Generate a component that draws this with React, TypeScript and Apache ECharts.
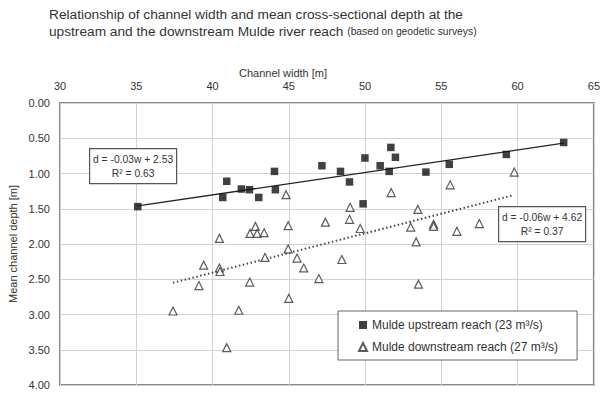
import React, { useEffect, useRef } from "react";
import * as echarts from "echarts";

const xTicks = [30, 35, 40, 45, 50, 55, 60, 65];
const yTicks = [0, 0.5, 1, 1.5, 2, 2.5, 3, 3.5, 4];

const upstreamWidth = [35.1, 40.93, 40.67, 41.89, 42.42, 43.03, 44.06, 44.12, 47.17, 48.39, 48.98, 49.99, 49.87, 50.99, 51.69, 51.99, 51.58, 53.99, 55.52, 59.26, 63.02];
const upstreamDepth = [1.47, 1.11, 1.34, 1.22, 1.23, 1.34, 0.97, 1.23, 0.89, 0.97, 1.12, 0.78, 1.43, 0.89, 0.63, 0.77, 0.97, 0.98, 0.87, 0.73, 0.56];

const downstreamWidth = [44.82, 40.45, 42.81, 42.46, 42.92, 43.38, 44.96, 47.4, 44.96, 39.42, 40.45, 40.49, 43.44, 45.54, 45.98, 46.97, 39.11, 42.44, 45.0, 37.41, 41.72, 40.93, 59.78, 55.58, 51.71, 49.02, 53.46, 48.98, 49.68, 52.99, 54.49, 54.49, 56.02, 57.49, 53.35, 48.48, 53.5];
const downstreamDepth = [1.30, 1.92, 1.75, 1.85, 1.85, 1.84, 1.74, 1.69, 2.07, 2.30, 2.34, 2.39, 2.19, 2.20, 2.34, 2.49, 2.59, 2.54, 2.77, 2.95, 2.94, 3.47, 0.98, 1.16, 1.27, 1.48, 1.51, 1.65, 1.78, 1.76, 1.72, 1.75, 1.82, 1.71, 1.97, 2.22, 2.57];

const upstreamTrend = [[35.1, 1.46], [63.02, 0.57]];
const downstreamTrend = [[37.41, 2.55], [59.67, 1.31]];

const upstreamName = "Mulde upstream reach (23 m³/s)";
const downstreamName = "Mulde downstream reach (27 m³/s)";
const upstreamEq = ["d = -0.03w + 2.53", "R² = 0.63"];
const downstreamEq = ["d = -0.06w + 4.62", "R² = 0.37"];

const FONT = "'Liberation Sans', Arial, sans-serif";
const TXT = "#333";

export default function App() {
  const ref = useRef<HTMLDivElement>(null);
  useEffect(() => {
    document.body.style.margin = "0";
    const chart = echarts.init(ref.current!, null, { renderer: "svg" });
    const zip = (a: number[], b: number[]) => a.map((v, i) => [v, b[i]]);
    const eqBox = (x: number, y: number, lines: string[]) => ({
      type: "group",
      left: x,
      top: y,
      z: 100,
      children: [
        { type: "rect", z: 100, shape: { x: 0, y: 0, width: 87, height: 35 }, style: { fill: "#fff", stroke: "#555", lineWidth: 1.2 } },
        { type: "text", z: 101, x: 43.5, y: 10.5, style: { text: lines[0], font: `10.3px ${FONT}`, fill: TXT, align: "center", verticalAlign: "middle" } },
        { type: "text", z: 101, x: 43.5, y: 25, style: { text: lines[1], font: `10.3px ${FONT}`, fill: TXT, align: "center", verticalAlign: "middle" } },
      ],
    });
    chart.setOption({
      animation: false,
      backgroundColor: "#fff",
      title: {
        left: 44,
        top: 1,
        text: "{a|Relationship of channel width and mean cross-sectional depth at the}\n{a|upstream and the downstream Mulde river reach }{b|(based on geodetic surveys)}",
        textStyle: {
          fontWeight: "normal",
          rich: {
            a: { fontFamily: FONT, fontSize: 13.7, fontWeight: "normal", color: TXT, lineHeight: 17 },
            b: { fontFamily: FONT, fontSize: 10.3, fontWeight: "normal", color: TXT, lineHeight: 17 },
          },
        },
      },
      grid: { left: 60, right: 7, top: 103, bottom: 9, show: true, borderColor: "#888", borderWidth: 2, backgroundColor: "transparent" },
      xAxis: {
        type: "value",
        position: "top",
        min: xTicks[0],
        max: xTicks[xTicks.length - 1],
        interval: 5,
        axisLine: { show: false },
        axisTick: { show: false },
        axisLabel: { fontFamily: FONT, fontSize: 11, color: TXT, margin: 12 },
        splitLine: { lineStyle: { color: "#d2d2d2", width: 1 } },
      },
      yAxis: {
        type: "value",
        inverse: true,
        min: yTicks[0],
        max: yTicks[yTicks.length - 1],
        interval: 0.5,
        axisLine: { show: false },
        axisTick: { show: false },
        axisLabel: { fontFamily: FONT, fontSize: 11, color: TXT, margin: 10, formatter: (v: number) => v.toFixed(2) },
        splitLine: { lineStyle: { color: "#d2d2d2", width: 1 } },
      },
      legend: {
        orient: "vertical",
        left: 338,
        top: 311,
        padding: [6, 19, 5, 20],
        itemGap: 6,
        itemWidth: 8,
        itemHeight: 8,
        borderColor: "#666",
        borderWidth: 1,
        backgroundColor: "#fff",
        textStyle: { fontFamily: FONT, fontSize: 12, color: TXT, lineHeight: 16 },
        data: [
          { name: upstreamName, icon: "rect" },
          { name: downstreamName, icon: "triangle" },
        ],
      },
      graphic: [
        eqBox(89, 148, upstreamEq),
        eqBox(498, 206, downstreamEq),
        { type: "text", x: 283, y: 73, style: { text: "Channel width [m]", font: `11px ${FONT}`, fill: TXT, align: "center", verticalAlign: "middle" } },
        { type: "text", x: 13, y: 244, rotation: Math.PI / 2, style: { text: "Mean channel depth [m]", font: `11px ${FONT}`, fill: TXT, align: "center", verticalAlign: "middle" } },
      ],
      series: [
        {
          name: "upTrend",
          type: "line",
          data: upstreamTrend,
          symbol: "none",
          lineStyle: { color: "#222", width: 1.3 },
          silent: true,
          z: 1,
        },
        {
          name: "downTrend",
          type: "line",
          data: downstreamTrend,
          symbol: "none",
          lineStyle: { color: "#444", width: 2, type: [1.5, 2.5] },
          silent: true,
          z: 1,
        },
        {
          name: upstreamName,
          type: "scatter",
          data: zip(upstreamWidth, upstreamDepth),
          symbol: "rect",
          symbolSize: 7.5,
          itemStyle: { color: "#111" },
          z: 3,
        },
        {
          name: downstreamName,
          type: "scatter",
          data: zip(downstreamWidth, downstreamDepth),
          symbol: "triangle",
          symbolSize: 8,
          itemStyle: { color: "#fff", borderColor: "#333", borderWidth: 1.2 },
          z: 2,
        },
      ],
    });
    return () => chart.dispose();
  }, []);
  return <div ref={ref} style={{ width: 603, height: 394 }} />;
}
